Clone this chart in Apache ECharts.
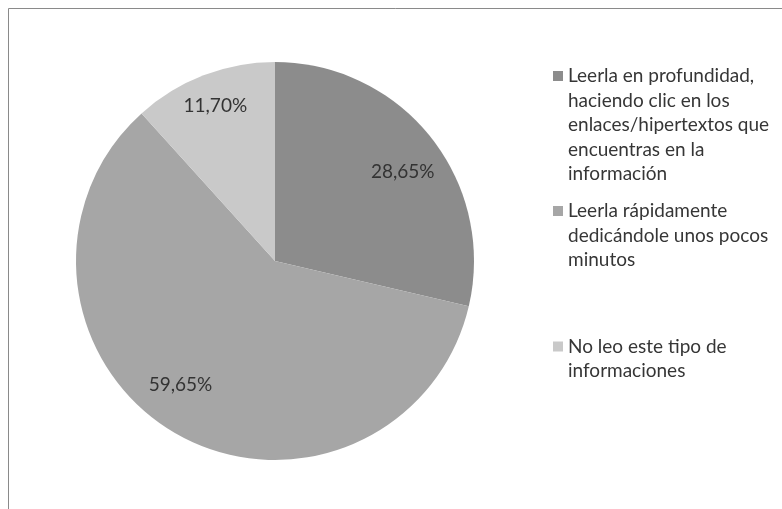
<!DOCTYPE html>
<html>
<head>
<meta charset="utf-8">
<script src="https://cdn.jsdelivr.net/npm/echarts@6/dist/echarts.min.js"></script>
<style>
html,body{margin:0;padding:0;background:#fff;}
#chart{width:782px;height:509px;}
</style>
</head>
<body>
<div id="chart"></div>
<script>
const categories = [
  'Leerla en profundidad, haciendo clic en los enlaces/hipertextos que encuentras en la información',
  'Leerla rápidamente dedicándole unos pocos minutos',
  'No leo este tipo de informaciones'
];
const legendLines = [
  ['Leerla en profundidad,', 'haciendo clic en los', 'enlaces/hipertextos que', 'encuentras en la', 'información'],
  ['Leerla rápidamente', 'dedicándole unos pocos', 'minutos'],
  ['No leo este tipo de', 'informaciones']
];
const values = [28.65, 59.65, 11.70];

const colors = ['#8c8c8c', '#a6a6a6', '#c9c9c9'];
const FONT = 'Lato';
const FS = 19;
const LH = 24.5;
const iconCenters = [76, 211, 346.5];
const labelOffsets = [[2, 11], [-13, -14], [-2, -5]];

const fmt = v => v.toFixed(2).replace('.', ',') + '%';

const legends = legendLines.map((lines, i) => {
  const n = lines.length;
  return {
    left: 553,
    top: iconCenters[i] - (2 * n - 1) * LH / 2,
    orient: 'vertical',
    padding: 0,
    itemWidth: 10,
    itemHeight: 10,
    itemGap: 0,
    icon: 'rect',
    selectedMode: false,
    data: [categories[i]],
    formatter: () => '\n'.repeat(n - 1) + lines.join('\n'),
    textStyle: {
      fontFamily: FONT,
      fontSize: FS,
      color: '#363636',
      lineHeight: LH
    }
  };
});

const chart = echarts.init(document.getElementById('chart'), null, {renderer: 'canvas'});
chart.setOption({
  animation: false,
  backgroundColor: '#fff',
  color: colors,
  graphic: [{
    type: 'rect',
    shape: {x: 8.5, y: 8.5, width: 900, height: 700},
    style: {fill: 'none', stroke: '#8a8a8a', lineWidth: 1},
    silent: true
  }],
  legend: legends,
  series: [{
    type: 'pie',
    center: [275, 261],
    radius: [0, 199],
    startAngle: 90,
    clockwise: true,
    silent: true,
    label: {show: false},
    labelLine: {show: false},
    itemStyle: {borderWidth: 0},
    data: categories.map((c, i) => ({name: c, value: values[i], itemStyle: {color: colors[i]}}))
  }, {
    type: 'pie',
    center: [275, 261],
    radius: [116, 199],
    startAngle: 90,
    clockwise: true,
    silent: true,
    itemStyle: {color: 'rgba(0,0,0,0)', borderWidth: 0},
    label: {
      show: true,
      position: 'inside',
      fontFamily: FONT,
      fontSize: FS,
      color: '#333333',
      formatter: p => fmt(p.value)
    },
    labelLine: {show: false},
    data: categories.map((c, i) => ({
      name: c, value: values[i],
      label: {offset: labelOffsets[i]}
    }))
  }]
});
</script>
</body>
</html>
